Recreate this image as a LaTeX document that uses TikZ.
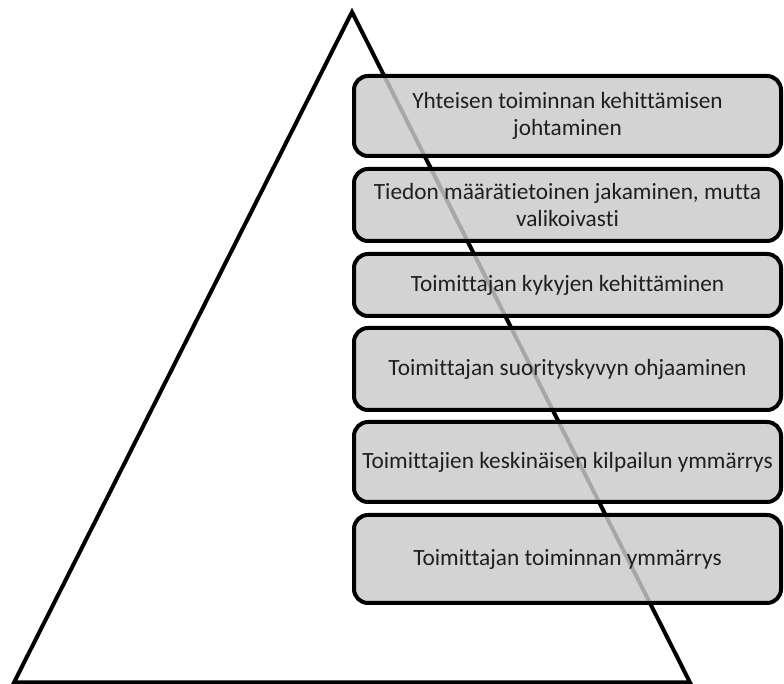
\documentclass[tikz,border=0pt]{standalone}
\usepackage{fontspec}
\setmainfont{Carlito}[Ligatures=NoCommon]
\definecolor{boxgray}{RGB}{202,202,202}
\begin{document}
\begin{tikzpicture}[x=1pt,y=1pt,
  outline/.style={draw=black, line width=4pt, line join=miter},
  stage/.style={draw=black, line width=4pt, rounded corners=14pt,
    fill=boxgray, fill opacity=0.83, text opacity=1, text=black!88,
    inner sep=0pt, minimum width=427pt, align=center,
    font=\fontsize{23.3}{27}\selectfont}]
\useasboundingbox (0,0) rectangle (784,684);

% pyramid outline
\coordinate (apex) at (352,672);
\coordinate (baseL) at (14,1.5);
\coordinate (baseR) at (690,1.5);
\draw[outline] (baseL) -- (apex) -- (baseR) -- cycle;

% levels, top to bottom
\node[stage, minimum height=80pt] (s1) at (567.5,568) {Yhteisen toiminnan kehittämisen\\johtaminen};
\node[stage, minimum height=72pt] (s2) at (567.5,479) {Tiedon määrätietoinen jakaminen, mutta\\valikoivasti};
\node[stage, minimum height=62pt] (s3) at (567.5,399) {Toimittajan kykyjen kehittäminen};
\node[stage, minimum height=82pt] (s4) at (567.5,315) {Toimittajan suorityskyvyn ohjaaminen};
\node[stage, minimum height=80pt] (s5) at (567.5,222) {Toimittajien keskinäisen kilpailun ymmärrys};
\node[stage, minimum height=88pt] (s6) at (567.5,125) {Toimittajan toiminnan ymmärrys};
\end{tikzpicture}
\end{document}
